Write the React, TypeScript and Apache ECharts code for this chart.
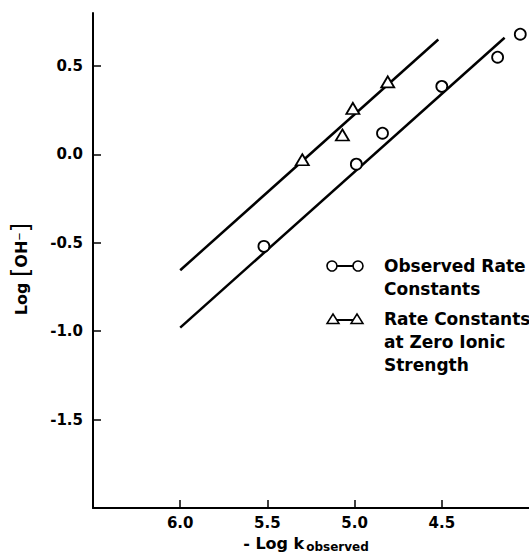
import React, { useEffect, useRef } from 'react';
import * as echarts from 'echarts';

// Observed rate constants (-log k_obs, log[OH-])
const observedX = [5.52, 4.99, 4.84, 4.5, 4.18, 4.05];
const observedY = [-0.52, -0.055, 0.12, 0.385, 0.55, 0.68];
// Rate constants at zero ionic strength
const zeroIonicX = [5.3, 5.07, 5.01, 4.81];
const zeroIonicY = [-0.03, 0.11, 0.26, 0.41];
// Fitted lines (end points)
const observedFitX = [6.0, 4.14];
const observedFitY = [-0.98, 0.66];
const zeroIonicFitX = [6.0, 4.52];
const zeroIonicFitY = [-0.655, 0.65];
// Tick values
const xTicks = [6.0, 5.5, 5.0, 4.5];
const yTicks = [0.5, 0.0, -0.5, -1.0, -1.5];

const FONT = 'DejaVu Sans';

const zip = (xs: number[], ys: number[]) => xs.map((x, i) => [x, ys[i]]);

export default function App() {
  const ref = useRef<HTMLDivElement>(null);
  useEffect(() => {
    if (!ref.current) return;
    const chart = echarts.init(ref.current, null, { renderer: 'svg' });
    const black = '#000';
    const legendText = (x: number, y: number, t: string) => ({
      type: 'text',
      x,
      y,
      style: { text: t, fill: black, font: `bold 17px "${FONT}"`, verticalAlign: 'middle' },
    });
    const tri = (cx: number, cy: number) => ({
      type: 'polygon',
      shape: { points: [[cx, cy - 5], [cx - 6, cy + 4.5], [cx + 6, cy + 4.5]] },
      style: { fill: '#fff', stroke: black, lineWidth: 1.5 },
    });
    chart.setOption({
      animation: false,
      backgroundColor: '#fff',
      grid: { left: 93, right: -6, top: 13, bottom: 48 },
      xAxis: {
        type: 'value',
        inverse: true,
        min: 4.0,
        max: 6.5,
        interval: 0.5,
        axisLine: { show: true, onZero: false, lineStyle: { color: black, width: 2 } },
        axisTick: { show: true, inside: true, length: 8, customValues: xTicks, lineStyle: { color: black, width: 1.5 } },
        axisLabel: {
          customValues: xTicks,
          formatter: (v: number) => v.toFixed(1),
          color: black,
          fontSize: 15,
          fontWeight: 'bold',
          fontFamily: FONT,
          margin: 7,
        },
        splitLine: { show: false },
      },
      yAxis: {
        type: 'value',
        min: -2.0,
        max: 0.8,
        interval: 0.5,
        axisLine: { show: true, onZero: false, lineStyle: { color: black, width: 2 } },
        axisTick: { show: true, inside: true, length: 8, customValues: yTicks, lineStyle: { color: black, width: 1.5 } },
        axisLabel: {
          customValues: yTicks,
          formatter: (v: number) => v.toFixed(1),
          color: black,
          fontSize: 15,
          fontWeight: 'bold',
          fontFamily: FONT,
          margin: 10,
        },
        splitLine: { show: false },
      },
      series: [
        {
          type: 'line',
          data: zip(observedFitX, observedFitY),
          showSymbol: false,
          lineStyle: { color: black, width: 2.5 },
          z: 2,
        },
        {
          type: 'line',
          data: zip(zeroIonicFitX, zeroIonicFitY),
          showSymbol: false,
          lineStyle: { color: black, width: 2.5 },
          z: 2,
        },
        {
          type: 'scatter',
          data: zip(observedX, observedY),
          symbol: 'circle',
          symbolSize: 11,
          itemStyle: { color: '#fff', borderColor: black, borderWidth: 1.8, opacity: 1 },
          z: 3,
        },
        {
          type: 'scatter',
          data: zip(zeroIonicX, zeroIonicY),
          symbol: 'triangle',
          symbolSize: [13, 11],
          itemStyle: { color: '#fff', borderColor: black, borderWidth: 1.8, opacity: 1 },
          z: 3,
        },
      ],
      graphic: [
        // y axis title
        {
          type: 'text',
          x: 21,
          y: 269,
          rotation: Math.PI / 2,
          style: {
            text: '{a|Log }{b|[}{a|OH⁻}{b|]}',
            fill: black,
            align: 'center',
            verticalAlign: 'middle',
            rich: {
              a: { fontSize: 16, fontWeight: 'bold', fontFamily: FONT, fill: black },
              b: { fontSize: 24, fontFamily: FONT, fill: black },
            },
          },
        },
        // x axis title
        {
          type: 'text',
          x: 306,
          y: 543,
          style: {
            text: '{a|- Log k}{s|observed}',
            fill: black,
            align: 'center',
            verticalAlign: 'middle',
            rich: {
              a: { fontSize: 16, fontWeight: 'bold', fontFamily: FONT, fill: black, lineHeight: 20 },
              s: { fontSize: 12, fontWeight: 'bold', fontFamily: FONT, fill: black, lineHeight: 20, verticalAlign: 'bottom', padding: [7, 0, 0, 2] },
            },
          },
        },
        // legend: observed
        { type: 'line', shape: { x1: 332, y1: 266, x2: 358, y2: 266 }, style: { stroke: black, lineWidth: 2 } },
        { type: 'circle', shape: { cx: 332, cy: 266, r: 5 }, style: { fill: '#fff', stroke: black, lineWidth: 1.6 } },
        { type: 'circle', shape: { cx: 358, cy: 266, r: 5 }, style: { fill: '#fff', stroke: black, lineWidth: 1.6 } },
        legendText(384, 266, 'Observed Rate'),
        legendText(384, 289, 'Constants'),
        // legend: zero ionic strength
        { type: 'line', shape: { x1: 333, y1: 320, x2: 357, y2: 320 }, style: { stroke: black, lineWidth: 2 } },
        tri(333, 319),
        tri(357, 319),
        legendText(384, 319, 'Rate Constants'),
        legendText(384, 342, 'at Zero Ionic'),
        legendText(384, 365, 'Strength'),
      ],
    });
    return () => chart.dispose();
  }, []);
  return <div ref={ref} style={{ width: 529, height: 556, position: 'absolute', left: 0, top: 0 }} />;
}
